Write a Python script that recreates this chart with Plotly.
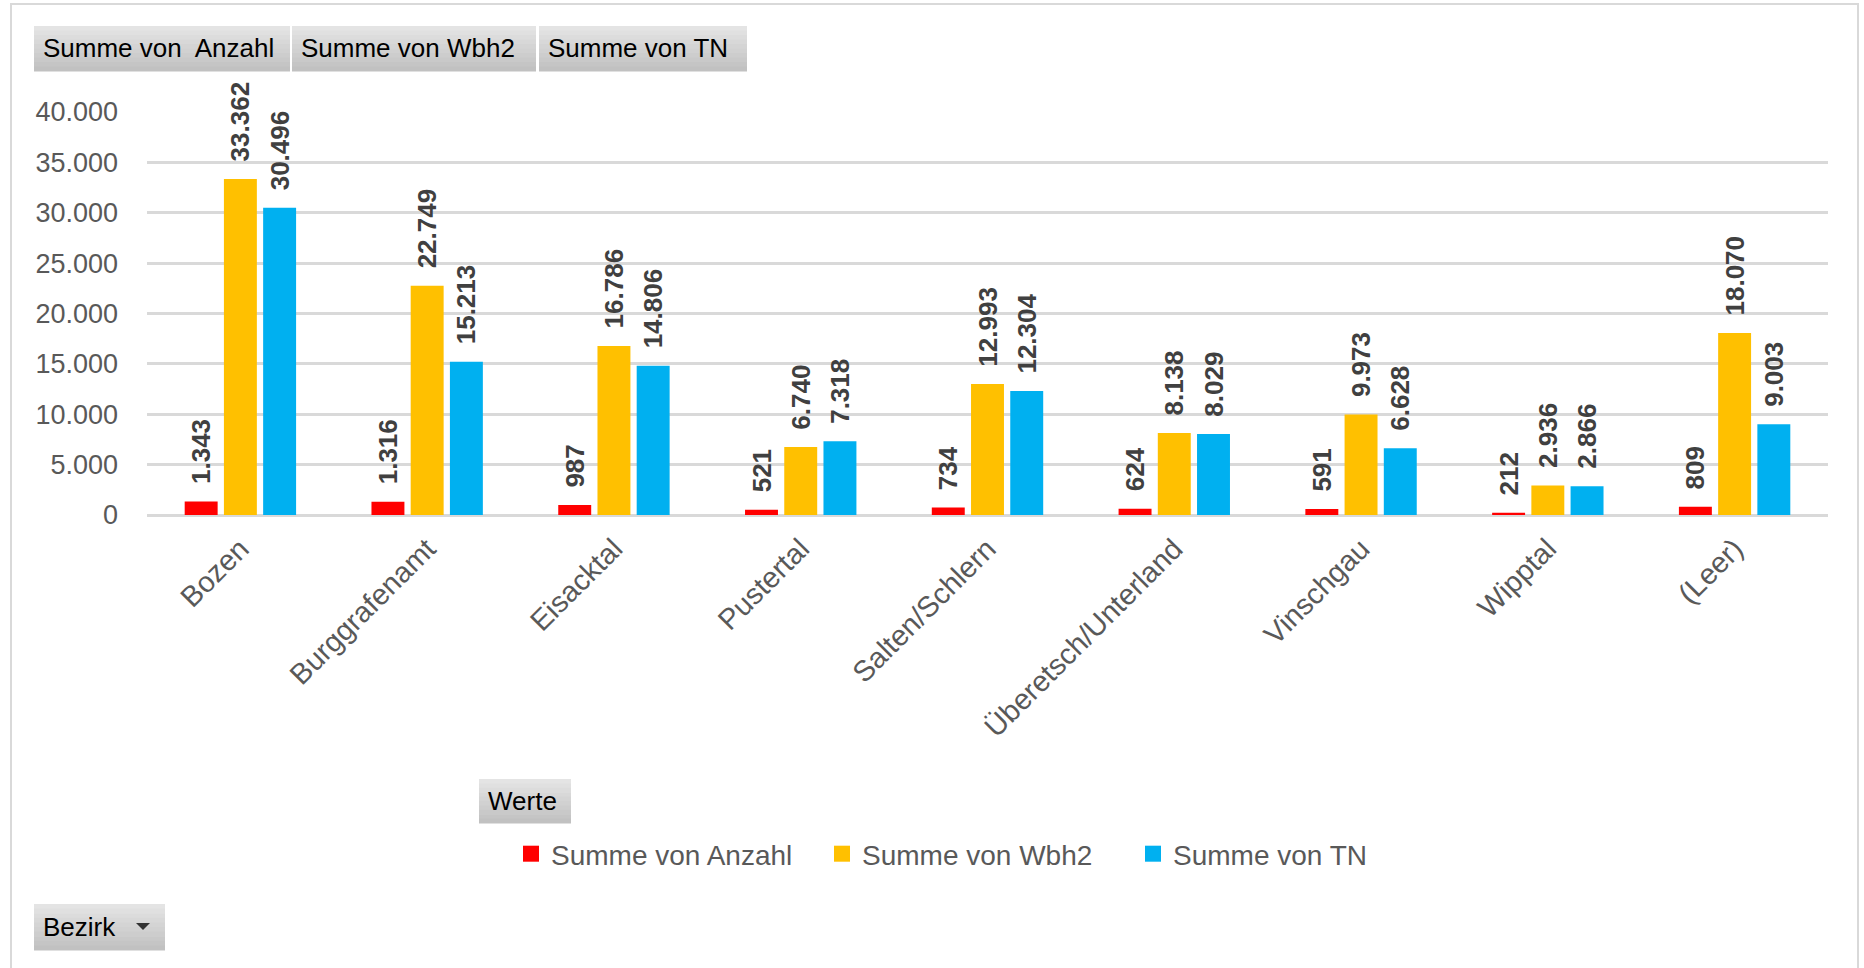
import plotly.graph_objects as go

W, H = 1864, 968

bezirke = ["Bozen", "Burggrafenamt", "Eisacktal", "Pustertal", "Salten/Schlern",
           "Überetsch/Unterland", "Vinschgau", "Wipptal", "(Leer)"]
anzahl = [1343, 1316, 987, 521, 734, 624, 591, 212, 809]
wbh2 = [33362, 22749, 16786, 6740, 12993, 8138, 9973, 2936, 18070]
tn = [30496, 15213, 14806, 7318, 12304, 8029, 6628, 2866, 9003]

series = [
    ("Summe von Anzahl", anzahl, "#FF0000"),
    ("Summe von Wbh2", wbh2, "#FFC000"),
    ("Summe von TN", tn, "#00B0F0"),
]
y_ticks = [0, 5000, 10000, 15000, 20000, 25000, 30000, 35000, 40000]

# plot area in pixels
PL, PR, PT, PB = 147, 1828, 112, 515
FONT = "Liberation Sans, Arial, sans-serif"


def px_x(x):
    return (x - PL) / (PR - PL)


def px_y(y):
    return (PB - y) / (PB - PT)


fig = go.Figure()
for name, vals, color in series:
    fig.add_trace(go.Bar(
        x=bezirke,
        y=vals,
        name=name,
        showlegend=False,
        marker=dict(color=color, line=dict(width=0)),
        texttemplate="\u00a0\u00a0%{y:,}",
        textposition="outside",
        textangle=-90,
        constraintext="none",
        cliponaxis=False,
        textfont=dict(family=FONT, size=26, color="#404040", weight="bold"),
    ))

# legend entries with larger square swatches
for name, vals, color in series:
    fig.add_trace(go.Scatter(
        x=[None], y=[None], mode="markers", name=name,
        marker=dict(symbol="square", size=16, color=color),
    ))

shapes = []
annotations = []

# outer frame
shapes.append(dict(type="rect", xref="paper", yref="paper",
                   x0=px_x(11), x1=px_x(1858), y0=px_y(4), y1=px_y(990),
                   line=dict(color="#d9d9d9", width=2), layer="below"))


def button(x0, x1, y0, y1, label, size=26):
    # vertical grey gradient made of bands
    n = 10
    top, bot = (228, 228, 228), (193, 193, 193)
    for i in range(n):
        t = i / (n - 1)
        c = tuple(round(top[k] + (bot[k] - top[k]) * t) for k in range(3))
        ya = y0 + (y1 - y0) * i / n
        yb = y0 + (y1 - y0) * (i + 1) / n
        shapes.append(dict(type="rect", xref="paper", yref="paper",
                           x0=px_x(x0), x1=px_x(x1), y0=px_y(ya), y1=px_y(yb + 0.5),
                           fillcolor="rgb(%d,%d,%d)" % c, line=dict(width=0)))
    annotations.append(dict(xref="paper", yref="paper", x=px_x(x0 + 7), y=px_y((y0 + y1) / 2),
                            text=label, showarrow=False, xanchor="left", yanchor="middle",
                            font=dict(family=FONT, size=size, color="#000000")))


button(34, 290, 26, 71, "Summe von  Anzahl")
button(292, 536, 26, 71, "Summe von Wbh2")
button(539, 747, 26, 71, "Summe von TN")
button(479, 571, 779, 823, "Werte")
button(34, 165, 904, 950, "Bezirk")
# dropdown triangle
tx, ty = 143, 926
shapes.append(dict(type="path", xref="paper", yref="paper",
                   path="M %f %f L %f %f L %f %f Z" % (px_x(tx - 7), px_y(ty - 3), px_x(tx + 7), px_y(ty - 3), px_x(tx), px_y(ty + 4)),
                   fillcolor="#333333", line=dict(width=0)))

fig.update_layout(
    width=W,
    height=H,
    margin=dict(l=PL, r=W - PR, t=PT, b=H - PB),
    plot_bgcolor="white",
    paper_bgcolor="white",
    separators=",.",
    barmode="group",
    bargap=0.37,
    bargroupgap=0.16,
    font=dict(family=FONT, color="#595959"),
    shapes=shapes,
    annotations=annotations,
    showlegend=True,
    legend=dict(
        orientation="h",
        x=px_x(511), xanchor="left",
        y=px_y(854), yanchor="middle",
        font=dict(family=FONT, size=28, color="#595959"),
        entrywidth=266,
        bgcolor="rgba(0,0,0,0)",
    ),
    xaxis=dict(
        tickangle=-45,
        tickfont=dict(family=FONT, size=29, color="#595959"),
        showgrid=False,
        showline=False,
        ticks="",
        zeroline=False,
        ticklabelstandoff=10,
    ),
    yaxis=dict(
        range=[0, 40000],
        tickvals=y_ticks,
        tickformat=",",
        tickfont=dict(family=FONT, size=27, color="#595959"),
        showgrid=True,
        gridcolor="#d9d9d9",
        gridwidth=3,
        zeroline=True,
        zerolinecolor="#d9d9d9",
        zerolinewidth=3,
        showline=False,
        ticks="",
        ticklabelstandoff=28,
    ),
)

fig.write_html("out.html", config={"displayModeBar": False},
               post_script="document.body.style.margin='0';")
